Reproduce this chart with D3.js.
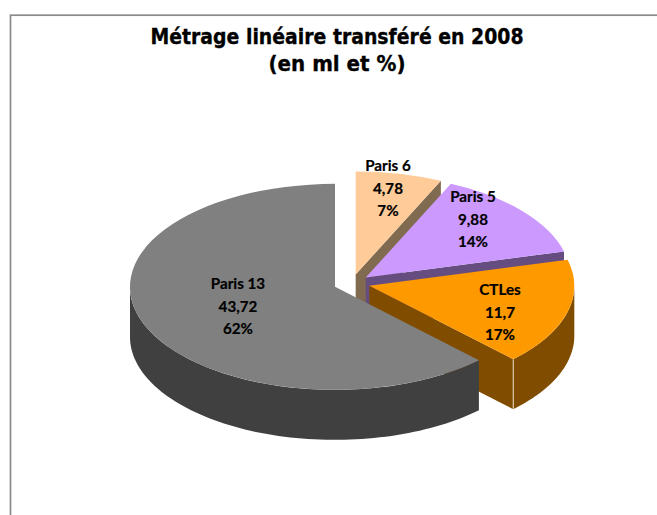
<!DOCTYPE html>
<html><head><meta charset="utf-8">
<script src="https://cdn.jsdelivr.net/npm/d3@7"></script>
<style>html,body{margin:0;padding:0;background:#fff}svg{display:block}</style>
</head><body><svg id="c" width="657" height="515"></svg>
<script>
const categories = ["Paris 6","Paris 5","CTLes","Paris 13"];
const values = [4.78,9.88,11.7,43.72];
const topColors = ["#FFCC99","#CC99FF","#FF9900","#808080"];
const sideColors = ["#806A50","#664D80","#804D00","#404040"];
const titleLines = ["Métrage linéaire transféré en 2008","(en ml et %)"];

const W=657,H=515,cx=351.8,cy=283.4,rx=205,ry=103,depth=50,explode=0.0886;
const labelAt=[[388,166],[473,197],[500,290],[238,284]];
const titleWidths=[373,137];
const svg=d3.select("#c");
svg.append("rect").attr("x",10.5).attr("y",15.2).attr("width",W+20).attr("height",H+20)
  .attr("fill","#fff").attr("stroke","#8a8a8a").attr("stroke-width",1.7);
svg.selectAll("text.t").data(titleLines).join("text").attr("class","t")
  .attr("x",337).attr("y",(d,i)=>43.5+i*27.2).attr("text-anchor","middle")
  .attr("font-family","'DejaVu Sans',sans-serif").attr("font-weight",700).attr("font-size",21)
  .attr("stroke","#000").attr("stroke-width",0.35)
  .attr("textLength",(d,i)=>titleWidths[i]).attr("lengthAdjust","spacingAndGlyphs").text(d=>d);

const total=d3.sum(values);
const slices=d3.pie().sort(null).startAngle(0).endAngle(2*Math.PI)(values);
const arc=d3.arc().innerRadius(0).outerRadius(rx);
const line=d3.line();
const pt=(s,a,r=1,dz=0)=>{const m=(s.startAngle+s.endAngle)/2;
  return [cx+explode*rx*Math.sin(m)+r*rx*Math.sin(a),cy-explode*ry*Math.cos(m)-r*ry*Math.cos(a)+dz];};
slices.forEach((s,i)=>{
  const g=svg.append("g"),ap=pt(s,0,0);
  const end=s.endAngle;
  const a0=Math.max(s.startAngle,Math.PI/2),a1=Math.min(end,3*Math.PI/2);
  if(a1>a0){
    const as=d3.range(0,81).map(k=>a0+(a1-a0)*k/80);
    const poly=as.map(a=>pt(s,a)).concat(as.slice().reverse().map(a=>pt(s,a,1,depth)));
    g.append("path").attr("d",line(poly)+"Z").attr("fill",sideColors[i]);
  }
  if(end<Math.PI){
    const e=pt(s,end);
    g.append("path").attr("d",line([ap,e,[e[0],e[1]+depth],[ap[0],ap[1]+depth]])+"Z").attr("fill",sideColors[i]);
    if(end>Math.PI/2) g.append("line").attr("x1",e[0]).attr("x2",e[0]).attr("y1",e[1]).attr("y2",e[1]+depth)
      .attr("stroke","#E8DCC8").attr("stroke-width",1);
  }
  g.append("path").attr("d",arc(s)).attr("fill",topColors[i])
    .attr("transform",`translate(${ap[0]},${ap[1]}) scale(1,${ry/rx})`);
});
const pct=d3.format(".0%");
categories.forEach((c,i)=>{
  svg.append("g").selectAll("text").data([c,String(values[i]).replace(".",","),pct(values[i]/total)]).join("text")
    .attr("x",labelAt[i][0]).attr("y",(d,k)=>labelAt[i][1]+5+k*22.5).attr("text-anchor","middle")
    .attr("font-family","Lato,sans-serif").attr("font-weight",700).attr("font-size",15.2)
    .attr("fill","#000").attr("stroke","#000").attr("stroke-width",0.2).text(d=>d);
});
</script></body></html>
